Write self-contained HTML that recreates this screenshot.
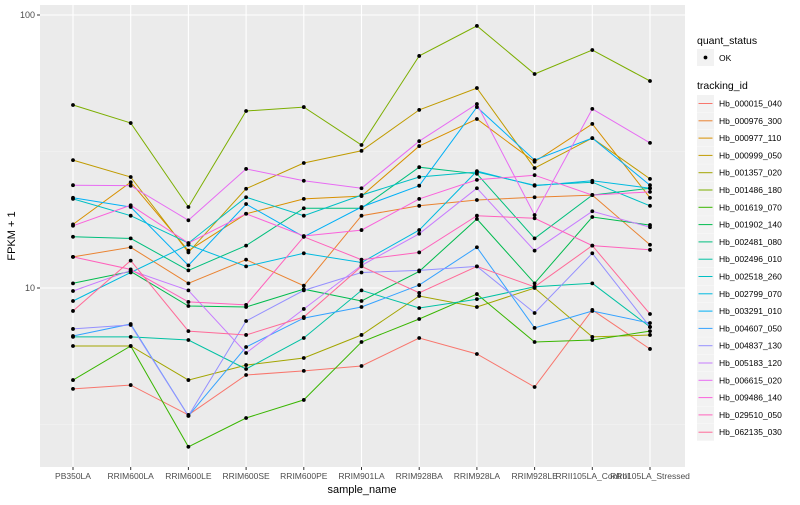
<!DOCTYPE html>
<html><head><meta charset="utf-8"><style>
body{margin:0;background:#fff;font-family:"Liberation Sans",sans-serif}
svg text{font-family:"Liberation Sans",sans-serif}
</style></head><body>
<svg id="chart" width="800" height="500" xmlns="http://www.w3.org/2000/svg">
<rect x="0" y="0" width="800" height="500" fill="#fff"/>
<rect x="40" y="5" width="645" height="462" fill="#EBEBEB"/>
<g id="grid"></g><g id="lines"></g><g id="points"></g><g id="axes"></g><g id="legend"></g>
<text x="0" y="0" transform="translate(15,236) rotate(-90)" font-size="11" text-anchor="middle" fill="#000">FPKM + 1</text>
<text x="362" y="493" font-size="11" text-anchor="middle" fill="#000">sample_name</text>
</svg>
<script>
const categories=["PB350LA","RRIM600LA","RRIM600LE","RRIM600SE","RRIM600PE","RRIM901LA","RRIM928BA","RRIM928LA","RRIM928LE","RRII105LA_Control","RRII105LA_Stressed"];
const seriesNames=["Hb_000015_040","Hb_000976_300","Hb_000977_110","Hb_000999_050","Hb_001357_020","Hb_001486_180","Hb_001619_070","Hb_001902_140","Hb_002481_080","Hb_002496_010","Hb_002518_260","Hb_002799_070","Hb_003291_010","Hb_004607_050","Hb_004837_130","Hb_005183_120","Hb_006615_020","Hb_009486_140","Hb_029510_050","Hb_062135_030"];
const seriesColors=["#F8766D","#EA8331","#D89000","#C09B00","#A3A500","#7CAE00","#39B600","#00BB4E","#00BF7D","#00C1A3","#00BFC4","#00BAE0","#00B0F6","#35A2FF","#9590FF","#C77CFF","#E76BF3","#FA62DB","#FF62BC","#FF6A98"];
const s000015=[4.27,4.41,3.43,4.80,4.97,5.18,6.56,5.73,4.34,8.31,5.98];
const s000976=[13.0,14.1,10.4,12.7,10.2,18.4,20.0,21.0,21.5,21.9,14.4];
const s000977=[17.1,24.4,13.7,18.7,21.2,21.7,33.1,41.6,29.0,39.9,21.4];
const s000999=[29.4,25.5,13.5,23.1,28.7,31.8,44.9,54.0,27.5,35.4,25.1];
const s001357=[6.13,6.13,4.60,5.22,5.54,6.73,9.35,8.52,10.0,6.62,6.73];
const s001486=[46.8,40.2,19.8,44.5,46.0,33.4,70.8,91.2,60.8,74.4,57.3];
const s001619=[4.60,6.13,2.62,3.34,3.89,6.34,7.70,9.5,6.34,6.45,6.95];
const s001902=[10.4,11.5,8.59,8.52,9.9,8.96,11.5,17.9,10.4,18.2,17.0];
const s002481=[15.4,15.2,11.6,14.3,19.6,19.6,27.7,26.2,15.2,21.9,23.2];
const s002496=[6.62,6.62,6.45,5.05,6.56,9.8,8.45,9.1,10.1,10.4,7.20];
const s002518=[21.2,18.4,14.6,21.5,18.4,21.9,25.5,26.6,23.8,24.4,20.0];
const s002799=[8.96,11.4,14.4,12.0,13.4,12.4,16.3,26.8,23.7,24.7,23.2];
const s003291=[21.4,19.8,12.1,20.3,15.4,19.8,23.7,46.0,29.4,35.4,23.8];
const s004607=[6.67,7.38,3.40,6.08,7.76,8.52,10.25,14.1,7.14,8.24,7.44];
const s004837=[7.08,7.32,3.40,7.57,9.8,11.4,11.6,12.0,8.10,13.4,7.20];
const s005183=[9.75,11.6,9.8,5.78,8.38,12.1,15.8,23.2,13.7,19.1,16.7];
const s006615=[23.8,23.7,17.7,27.3,24.7,23.2,34.5,47.2,18.5,45.3,34.0];
const s009486=[16.9,20.1,14.6,18.7,15.5,16.3,21.2,24.9,25.9,21.9,22.5];
const s029510=[13.0,11.7,8.89,8.67,15.4,12.7,13.5,18.4,18.0,14.3,13.8];
const s062135=[8.24,12.6,6.95,6.73,7.83,12.0,9.6,12.0,10.1,14.3,8.03];
const seriesValues=[s000015,s000976,s000977,s000999,s001357,s001486,s001619,s001902,s002481,s002496,s002518,s002799,s003291,s004607,s004837,s005183,s006615,s009486,s029510,s062135];
const yTickValues=[10,100];
const yTickLabels=["10","100"];
const yMinorValues=[Math.sqrt(10),Math.sqrt(1000)];

const NS="http://www.w3.org/2000/svg";
const X0=73,XSTEP=57.7;
function xScale(i){return X0+i*XSTEP;}
function yScale(v){return 288-(Math.log10(v)-1)*273;}
function mk(tag,attrs,parent){const e=document.createElementNS(NS,tag);for(const k in attrs)e.setAttribute(k,attrs[k]);parent.appendChild(e);return e;}
const grid=document.getElementById('grid'),linesG=document.getElementById('lines'),ptsG=document.getElementById('points'),axes=document.getElementById('axes'),leg=document.getElementById('legend');

yMinorValues.forEach(v=>{const l=mk('line',{x1:40,x2:685,y1:yScale(v),y2:yScale(v),stroke:'#F5F5F5','stroke-width':0.6},grid);

});
yTickValues.forEach((v,i)=>{const y=yScale(v);
const l=mk('line',{x1:40,x2:685,y1:y,y2:y,stroke:'#fff','stroke-width':1.1},grid);


const t=mk('line',{x1:37,x2:40,y1:y,y2:y,stroke:'#333','stroke-width':1},axes);


const tx=mk('text',{x:35,y:y+3,'font-size':9,'text-anchor':'end',fill:'#4D4D4D'},axes);tx.textContent=yTickLabels[i];

});
categories.forEach((c,i)=>{const x=xScale(i);
const l=mk('line',{x1:x,x2:x,y1:5,y2:467,stroke:'#fff','stroke-width':1.1},grid);


const t=mk('line',{x1:x,x2:x,y1:467,y2:470,stroke:'#333','stroke-width':1},axes);


const tx=mk('text',{x:x,y:479,'font-size':8.5,'text-anchor':'middle',fill:'#4D4D4D'},axes);tx.textContent=c;

});

seriesValues.forEach((vals,s)=>{
const pts=vals.map((v,i)=>xScale(i).toFixed(1)+','+yScale(v).toFixed(1)).join(' ');
const pl=mk('polyline',{points:pts,fill:'none',stroke:seriesColors[s],'stroke-width':1},linesG);


vals.forEach((v,i)=>{const p=mk('circle',{cx:xScale(i),cy:yScale(v),r:1.9,fill:'#000'},ptsG);

});
});

// legend
let t=mk('text',{x:697,y:44,'font-size':10.5,fill:'#000'},leg);t.textContent='quant_status';


let r=mk('rect',{x:697,y:49,width:17,height:17,fill:'#F2F2F2'},leg);


mk('circle',{cx:705.5,cy:57.5,r:1.9,fill:'#000'},leg);
t=mk('text',{x:719,y:61,'font-size':8.5,fill:'#000'},leg);t.textContent='OK';


t=mk('text',{x:697,y:89,'font-size':10.5,fill:'#000'},leg);t.textContent='tracking_id';


seriesNames.forEach((n,i)=>{const yc=103.5+i*17.3;
const k=mk('rect',{x:697,y:yc-8.5,width:17,height:17,fill:'#F2F2F2'},leg);


const l=mk('line',{x1:698.5,x2:712.5,y1:yc,y2:yc,stroke:seriesColors[i],'stroke-width':1},leg);


const tx=mk('text',{x:719,y:yc+3,'font-size':8.5,fill:'#000'},leg);tx.textContent=n;

});
</script>
</body></html>
